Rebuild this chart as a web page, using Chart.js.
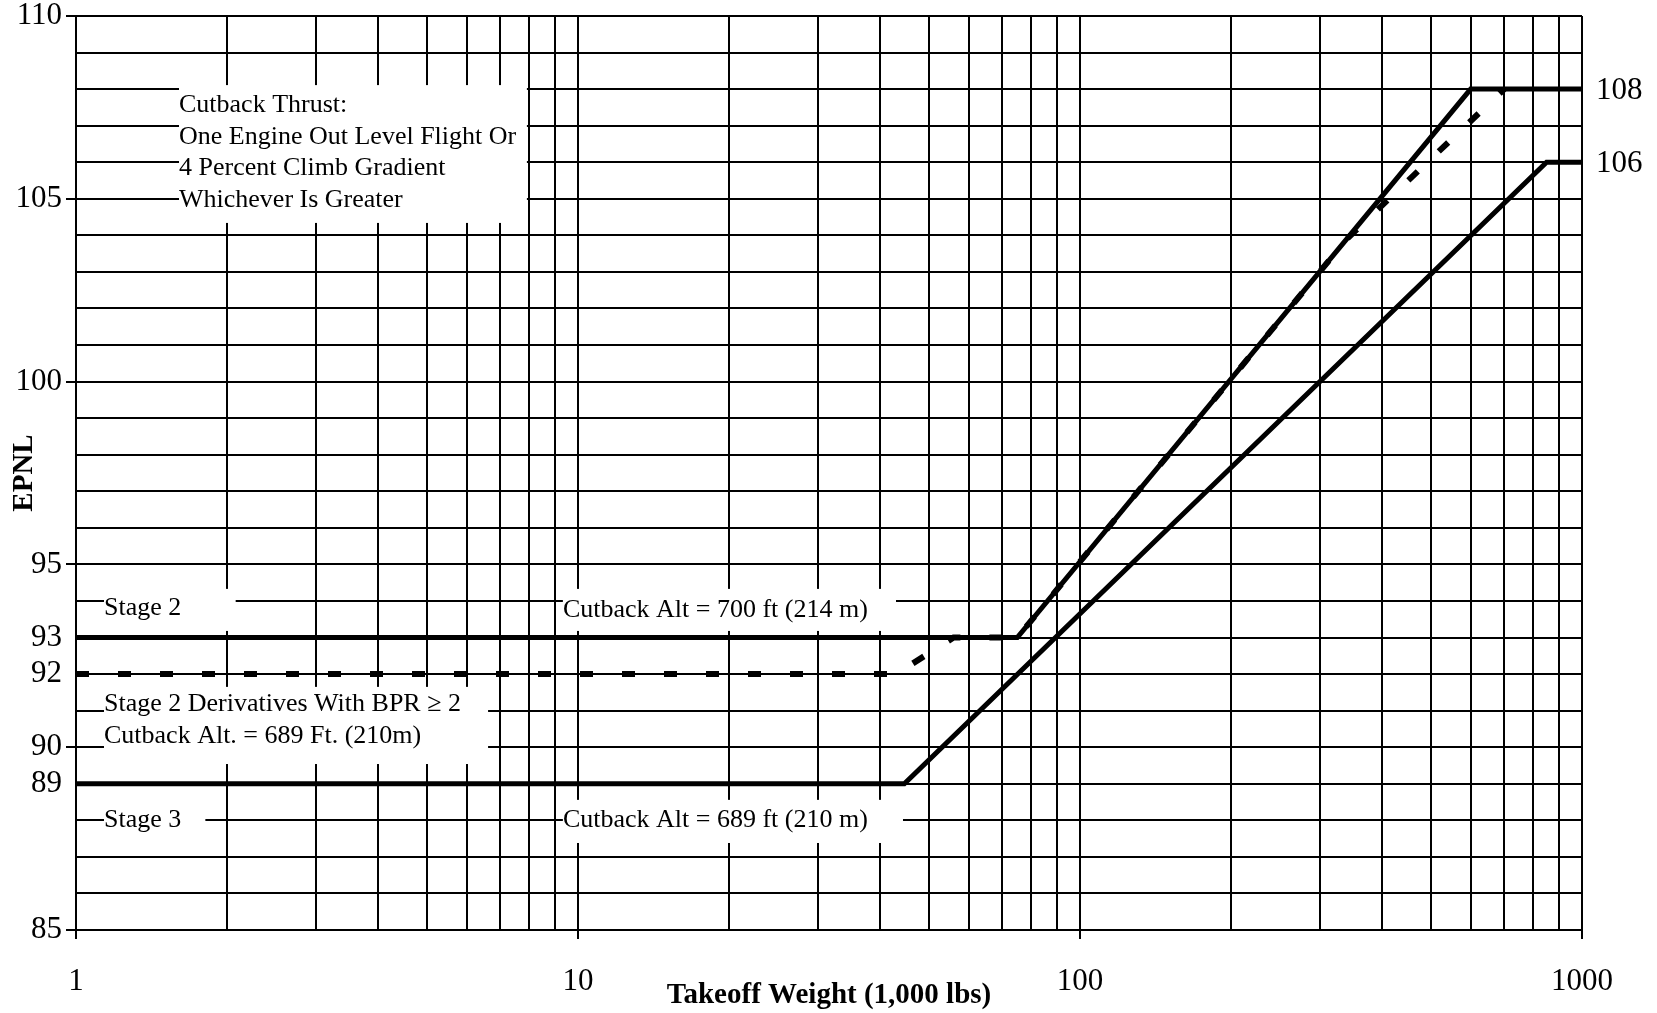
<!DOCTYPE html>
<html>
<head>
<meta charset="utf-8">
<title>EPNL vs Takeoff Weight</title>
<script src="https://cdn.jsdelivr.net/npm/chart.js@4.4.1/dist/chart.umd.min.js"></script>
<style>
  html, body { margin: 0; padding: 0; background: #fff; }
</style>
</head>
<body>
<canvas id="epnlChart" width="1657" height="1013"></canvas>
<script>
// takeoff weight in 1,000 lbs (log axis), EPNL in dB
const stage2Weight = [1, 75, 600, 1000];
const stage2Epnl = [93, 93, 108, 108];
const stage3Weight = [1, 44.673, 850, 1000];
const stage3Epnl = [89, 89, 106, 106];
const derivWeight = [1, 43, 56, 75, 340, 700];
const derivEpnl = [92, 92, 93, 93, 103.9, 108];

const xTickLabels = [1, 10, 100, 1000];
const yTickLabels = [110, 105, 100, 95, 93, 92, 90, 89, 85];
const endLabels = [108, 106];

// grid every unit on y, 1-2-3..9 per decade on x
const yGrid = [];
for (let v = 85; v <= 110; v++) yGrid.push(v);
const xGrid = [];
[1, 10, 100].forEach(d => { for (let m = 1; m < 10; m++) xGrid.push(m * d); });
xGrid.push(1000);

// text boxes (white background hides the grid), given in data units
const notes = [
    { lines: ['Cutback Thrust:', 'One Engine Out Level Flight Or', '4 Percent Climb Gradient', 'Whichever Is Greater'],
      x: 1.604, y: [107.57, 106.69, 105.84, 104.97], box: [1.604, 7.91, 108.11, 104.34] },
    { lines: ['Stage 2'], x: 1.137, y: [93.8], box: [1.137, 2.08, 94.33, 93.18] },
    { lines: ['Cutback Alt = 700 ft (214 m)'], x: 9.33, y: [93.75], box: [9.33, 43.0, 94.33, 93.18] },
    { lines: ['Stage 2 Derivatives With BPR \u2265 2', 'Cutback Alt. = 689 Ft. (210m)'],
      x: 1.137, y: [91.18, 90.31], box: [1.137, 6.62, 91.65, 89.54] },
    { lines: ['Stage 3'], x: 1.137, y: [88.0], box: [1.137, 1.81, 88.56, 87.46] },
    { lines: ['Cutback Alt = 689 ft (210 m)'], x: 9.33, y: [88.0], box: [9.33, 44.4, 88.56, 87.38] }
];

const serif = '"Liberation Serif", "Times New Roman", serif';
Chart.defaults.font.family = serif;
Chart.defaults.color = '#000';

function toPoints(xs, ys) {
    return xs.map((x, i) => ({ x: x, y: ys[i] }));
}

const notesPlugin = {
    id: 'notes',
    beforeDatasetsDraw(chart) {
        const { ctx, scales: { x, y } } = chart;
        ctx.save();
        notes.forEach(n => {
            const left = x.getPixelForValue(n.box[0]);
            const right = x.getPixelForValue(n.box[1]);
            const top = y.getPixelForValue(n.box[2]);
            const bottom = y.getPixelForValue(n.box[3]);
            ctx.fillStyle = '#fff';
            ctx.fillRect(left, top, right - left, bottom - top);
            ctx.fillStyle = '#000';
            ctx.font = '26px ' + serif;
            ctx.textAlign = 'left';
            ctx.textBaseline = 'middle';
            n.lines.forEach((t, i) => {
                ctx.fillText(t, x.getPixelForValue(n.x), y.getPixelForValue(n.y[i]));
            });
        });
        ctx.restore();
    },
    afterDraw(chart) {
        // 108 / 106 next to the right edge
        const { ctx, scales: { x, y } } = chart;
        ctx.save();
        ctx.fillStyle = '#000';
        ctx.font = '31px ' + serif;
        ctx.textAlign = 'left';
        ctx.textBaseline = 'middle';
        endLabels.forEach(v => {
            ctx.fillText(String(v), x.getPixelForValue(1000) + 14, y.getPixelForValue(v) + 2);
        });
        ctx.restore();
    }
};

const lineBase = {
    borderColor: '#000',
    pointRadius: 0,
    fill: false,
    tension: 0
};

new Chart(document.getElementById('epnlChart').getContext('2d'), {
    type: 'line',
    data: {
        datasets: [
            Object.assign({ label: 'Stage 2', data: toPoints(stage2Weight, stage2Epnl), borderWidth: 5, borderCapStyle: 'round' }, lineBase),
            Object.assign({ label: 'Stage 3', data: toPoints(stage3Weight, stage3Epnl), borderWidth: 5, borderCapStyle: 'round' }, lineBase),
            Object.assign({ label: 'Stage 2 Derivatives', data: toPoints(derivWeight, derivEpnl), borderWidth: 6, borderDash: [13, 29], borderCapStyle: 'butt' }, lineBase)
        ]
    },
    options: {
        responsive: false,
        animation: false,
        devicePixelRatio: 1,
        layout: {
            padding: { left: 0, right: 75, top: 16, bottom: 0 }
        },
        plugins: {
            legend: { display: false },
            tooltip: { enabled: false }
        },
        scales: {
            x: {
                type: 'logarithmic',
                min: 1,
                max: 1000,
                afterBuildTicks: s => { s.ticks = xGrid.map(v => ({ value: v })); },
                afterFit: s => { s.height = 83; s.paddingLeft = 0; s.paddingRight = 0; },
                ticks: {
                    autoSkip: false,
                    maxRotation: 0,
                    padding: 24,
                    color: '#000',
                    font: { size: 31 },
                    callback: v => xTickLabels.includes(v) ? String(v) : ''
                },
                grid: {
                    color: '#000',
                    lineWidth: 2,
                    tickLength: 9,
                    tickWidth: 2,
                    tickColor: c => (c.tick && xTickLabels.includes(c.tick.value)) ? '#000' : 'rgba(0,0,0,0)'
                },
                border: { color: '#000', width: 2 },
                title: {
                    display: true,
                    text: 'Takeoff Weight (1,000 lbs)',
                    color: '#000',
                    font: { size: 29, weight: 'bold' },
                    padding: { top: 0, bottom: 0 }
                }
            },
            y: {
                min: 85,
                max: 110,
                afterBuildTicks: s => { s.ticks = yGrid.map(v => ({ value: v })); },
                afterFit: s => { s.width = 76; s.paddingTop = 0; s.paddingBottom = 0; },
                ticks: {
                    autoSkip: false,
                    padding: 4,
                    color: '#000',
                    font: { size: 31 },
                    callback: v => yTickLabels.includes(v) ? String(v) : ''
                },
                grid: {
                    color: '#000',
                    lineWidth: 2,
                    tickLength: 10,
                    tickWidth: 2,
                    tickColor: c => (c.tick && c.tick.value % 5 === 0) ? '#000' : 'rgba(0,0,0,0)'
                },
                border: { color: '#000', width: 2 },
                title: {
                    display: true,
                    text: 'EPNL',
                    color: '#000',
                    font: { size: 29, weight: 'bold' },
                    padding: { top: 7, bottom: 0 }
                }
            }
        }
    },
    plugins: [notesPlugin]
});
</script>
</body>
</html>
